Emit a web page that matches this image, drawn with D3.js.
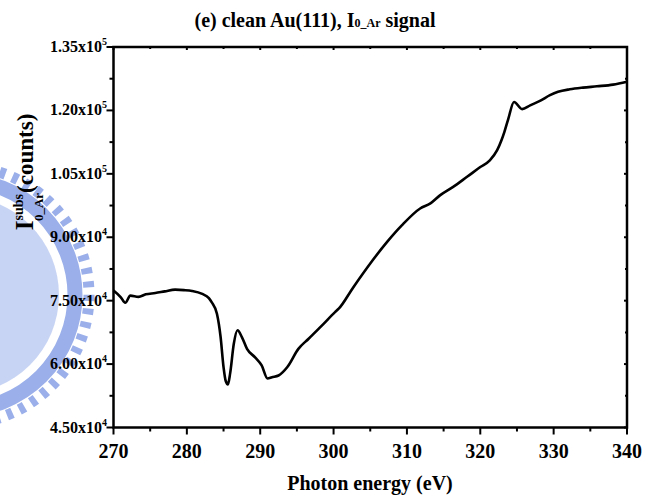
<!DOCTYPE html>
<html>
<head>
<meta charset="utf-8">
<script src="https://cdn.jsdelivr.net/npm/d3@7"></script>
<style>
  * { margin: 0; padding: 0; }
  body { background: #fff; }
  svg { display: block; font-family: "Liberation Serif", "Times New Roman", serif; font-weight: bold; }
</style>
</head>
<body>
<svg id="chart" width="646" height="502"></svg>
<script>
// photon energy (eV) and counts
var energy = [270.0, 271.0, 271.6, 272.3, 273.4, 274.4, 275.7, 277.0, 278.4, 279.6, 280.7, 282.1, 283.0, 283.4, 284.1, 284.6,
  285.0, 285.3, 285.6, 285.9, 286.4, 286.9, 287.5, 288.2, 289.3, 290.2, 291.0, 291.6, 292.5, 293.7, 295.2, 296.6,
  298.4, 300.2, 300.7, 302.7, 305.0, 307.3, 309.3, 311.8, 313.2, 314.5, 316.3, 318.2, 320.0, 321.3, 322.3, 322.9,
  323.3, 323.8, 324.6, 325.7, 326.8, 328.2, 329.5, 330.6, 332.2, 334.0, 335.9, 338.1, 340.0];
var counts = [77400, 75800, 74500, 76200, 75900, 76500, 76800, 77200, 77600, 77500, 77300, 76600, 75600, 74600, 71900, 66400,
  59300, 56000, 55200, 57800, 64800, 68000, 66400, 63600, 61600, 59700, 56600, 56900, 57300, 59300, 63600, 66000,
  69100, 72300, 73100, 78200, 83800, 88900, 92800, 96800, 98000, 99900, 101900, 104300, 106600, 108200, 110600, 113000,
  115000, 117900, 122000, 120300, 121200, 122300, 123600, 124400, 125000, 125400, 125700, 126100, 126800];

var xTicks = [270, 280, 290, 300, 310, 320, 330, 340];
var yTicks = [45000, 60000, 75000, 90000, 105000, 120000, 135000];

var svg = d3.select("#chart");
var pLeft = 113.5, pRight = 627, pTop = 47, pBottom = 427.5;

var x = d3.scaleLinear().domain([270, 340]).range([pLeft, pRight]);
var y = d3.scaleLinear().domain([45000, 135000]).range([pBottom, pTop]);

// faint watermark seal on the left
var wm = svg.append("g").attr("fill", "none").attr("stroke", "#9bb0ea");
wm.append("circle").attr("cx", -40).attr("cy", 295).attr("r", 129)
  .attr("stroke-width", 11).attr("stroke-dasharray", "6 7.5");
wm.append("circle").attr("cx", -40).attr("cy", 295).attr("r", 115).attr("stroke-width", 15);
wm.append("circle").attr("cx", -40).attr("cy", 295).attr("r", 99)
  .attr("stroke", "none").attr("fill", "#9bb0ea").attr("fill-opacity", 0.55);

// ticks
var g = svg.append("g").attr("stroke", "#000").attr("stroke-width", 2);
xTicks.forEach(function (d) {
  g.append("line").attr("x1", x(d)).attr("x2", x(d)).attr("y1", pBottom).attr("y2", pBottom + 7);
  g.append("line").attr("x1", x(d)).attr("x2", x(d)).attr("y1", pTop).attr("y2", pTop + 3);
});
d3.range(275, 340, 10).forEach(function (d) {
  g.append("line").attr("x1", x(d)).attr("x2", x(d)).attr("y1", pBottom).attr("y2", pBottom + 4);
  g.append("line").attr("x1", x(d)).attr("x2", x(d)).attr("y1", pTop).attr("y2", pTop + 2);
});
yTicks.forEach(function (d) {
  g.append("line").attr("x1", pLeft - 7).attr("x2", pLeft).attr("y1", y(d)).attr("y2", y(d));
  g.append("line").attr("x1", pRight - 3).attr("x2", pRight).attr("y1", y(d)).attr("y2", y(d));
});
d3.range(52500, 135000, 15000).forEach(function (d) {
  g.append("line").attr("x1", pLeft - 4).attr("x2", pLeft).attr("y1", y(d)).attr("y2", y(d));
  g.append("line").attr("x1", pRight - 2).attr("x2", pRight).attr("y1", y(d)).attr("y2", y(d));
});

// frame
svg.append("rect").attr("x", pLeft).attr("y", pTop)
  .attr("width", pRight - pLeft).attr("height", pBottom - pTop)
  .attr("fill", "none").attr("stroke", "#000").attr("stroke-width", 2.5);

// curve
var line = d3.line()
  .x(function (d, i) { return x(energy[i]); })
  .y(function (d) { return y(d); })
  .curve(d3.curveMonotoneX);
svg.append("path").datum(counts).attr("d", line)
  .attr("fill", "none").attr("stroke", "#000").attr("stroke-width", 2.6)
  .attr("stroke-linejoin", "round");

// x tick labels
svg.selectAll(".xl").data(xTicks).enter().append("text")
  .attr("x", function (d) { return x(d); }).attr("y", 458)
  .attr("text-anchor", "middle").attr("font-size", 20).text(function (d) { return d; });

// y tick labels like 1.35x10^5
yTicks.forEach(function (d) {
  var e = Math.floor(Math.log10(d));
  var t = svg.append("text").attr("x", 107).attr("y", y(d) + 5)
    .attr("text-anchor", "end").attr("font-size", 16);
  t.append("tspan").text((d / Math.pow(10, e)).toFixed(2) + "x10");
  t.append("tspan").attr("font-size", 10).attr("dy", -7).text(e);
});

// title
var title = svg.append("text").attr("x", 315).attr("y", 27)
  .attr("text-anchor", "middle").attr("font-size", 20);
title.append("tspan").text("(e) clean Au(111), I");
title.append("tspan").attr("font-size", 12).text("0_Ar");
title.append("tspan").text(" signal");

// x axis title
svg.append("text").attr("x", 370).attr("y", 490).attr("text-anchor", "middle")
  .attr("font-size", 20).text("Photon energy (eV)");

// y axis title
var yt = svg.append("text").attr("transform", "translate(33,172) rotate(-90)")
  .attr("text-anchor", "middle").attr("font-size", 23);
yt.append("tspan").attr("font-size", 25).text("I");
yt.append("tspan").attr("font-size", 14).attr("dy", -10).text("subs");
yt.append("tspan").attr("font-size", 13).attr("dx", -27).attr("dy", 20).text("0_Ar");
yt.append("tspan").attr("dy", -10).text("(counts)");
</script>
</body>
</html>
